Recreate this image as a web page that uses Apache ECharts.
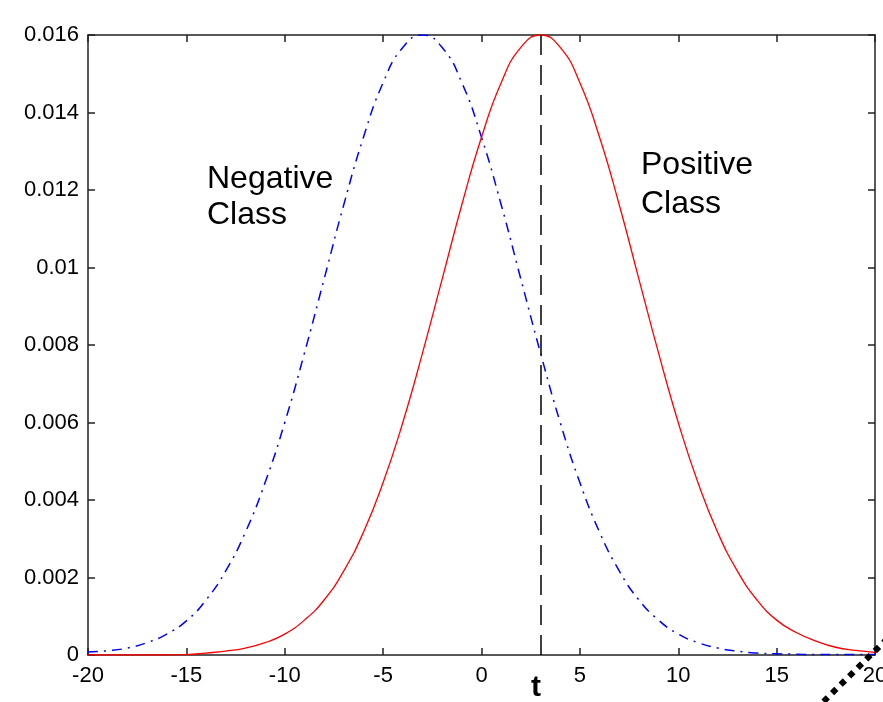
<!DOCTYPE html>
<html>
<head>
<meta charset="utf-8">
<script src="https://cdn.jsdelivr.net/npm/echarts@6/dist/echarts.min.js"></script>
<style>
html,body{margin:0;padding:0;background:#fff;}
#chart{width:883px;height:702px;}
</style>
</head>
<body>
<div id="chart"></div>
<script>
// x positions (integer steps from -20 to 20)
var xValues = [-20,-19,-18,-17,-16,-15,-14,-13,-12,-11,-10,-9,-8,-7,-6,-5,-4,-3,-2,-1,0,1,2,3,4,5,6,7,8,9,10,11,12,13,14,15,16,17,18,19,20];
// Negative class density (blue dash-dot)
var negativeValues = [0.00008,0.00011,0.00018,0.00032,0.00054,0.00088,0.00142,0.00217,0.00317,0.00445,0.00600,0.00779,0.00970,0.01162,0.01336,0.01477,0.01568,0.01600,0.01568,0.01477,0.01336,0.01162,0.00970,0.00779,0.00600,0.00445,0.00317,0.00217,0.00142,0.00090,0.00054,0.00032,0.00018,0.00010,0.00005,0.00003,0.00002,0.00001,0.00001,0.00001,0.00001];
// Positive class density (red solid)
var positiveValues = [0.00000,0.00000,0.00000,0.00000,0.00000,0.00001,0.00005,0.00010,0.00018,0.00032,0.00054,0.00090,0.00142,0.00217,0.00317,0.00445,0.00600,0.00779,0.00970,0.01162,0.01336,0.01477,0.01568,0.01600,0.01568,0.01477,0.01336,0.01162,0.00970,0.00779,0.00600,0.00445,0.00317,0.00217,0.00142,0.00090,0.00058,0.00036,0.00020,0.00012,0.00007];
var thresholdX = 3;
var xTicks = [-20,-15,-10,-5,0,5,10,15,20];
var yTicks = [0,0.002,0.004,0.006,0.008,0.01,0.012,0.014,0.016];

function pairs(xs, ys){ return xs.map(function(x,i){ return [x, ys[i]]; }); }

var chart = echarts.init(document.getElementById('chart'), null, {renderer:'canvas'});
var font = '"Liberation Sans", Arial, sans-serif';
var axisLine = {show:true, onZero:false, lineStyle:{color:'#222', width:1.5}};
var tick = {show:true, inside:true, length:7, lineStyle:{color:'#222', width:1.5}};
chart.setOption({
  animation:false,
  backgroundColor:'#fff',
  grid:{left:88, right:8, top:35, bottom:47, containLabel:false, outerBoundsMode:'none'},
  xAxis:[{
    type:'value', min:xTicks[0], max:xTicks[xTicks.length-1], interval:5,
    axisLine:axisLine, axisTick:tick, splitLine:{show:false},
    axisLabel:{color:'#000', fontSize:22, fontFamily:font, margin:10}
  },{
    type:'value', position:'top', min:-20, max:20, interval:5,
    axisLine:axisLine, axisTick:tick, splitLine:{show:false}, axisLabel:{show:false}
  }],
  yAxis:[{
    type:'value', position:'left', min:yTicks[0], max:yTicks[yTicks.length-1], interval:0.002,
    axisLine:axisLine, axisTick:tick, splitLine:{show:false},
    axisLabel:{color:'#000', fontSize:22, fontFamily:font, margin:9,
      formatter:function(v){ return String(+v.toFixed(3)); }}
  },{
    type:'value', position:'right', min:0, max:0.016, interval:0.002,
    axisLine:axisLine, axisTick:tick, splitLine:{show:false}, axisLabel:{show:false}
  }],
  series:[{
    name:'Negative', type:'line', smooth:true, symbol:'none',
    data:pairs(xValues, negativeValues),
    lineStyle:{color:'#0000ff', width:1.5, type:[10,6,2,6]},
    z:3
  },{
    name:'Positive', type:'line', smooth:true, symbol:'none',
    data:pairs(xValues, positiveValues),
    lineStyle:{color:'#ff0000', width:1.3},
    z:4,
    markLine:{
      silent:true, symbol:'none', label:{show:false},
      lineStyle:{color:'#000', width:1.5, type:[20,10]},
      data:[{xAxis:thresholdX}]
    }
  }],
  graphic:[
    {type:'text', left:207, top:161, style:{text:'Negative\nClass', font:'32px '+font, fill:'#000', lineHeight:36}},
    {type:'text', left:641, top:146, style:{text:'Positive\nClass', font:'32px '+font, fill:'#000', lineHeight:39}},
    {type:'text', left:531, top:673, style:{text:'t', font:'bold 30px '+font, fill:'#000'}},
    {type:'line', shape:{x1:815, y1:710, x2:890, y2:636}, style:{stroke:'#000', lineWidth:6, lineDash:[6,6]}, z:100}
  ]
});
</script>
</body>
</html>
